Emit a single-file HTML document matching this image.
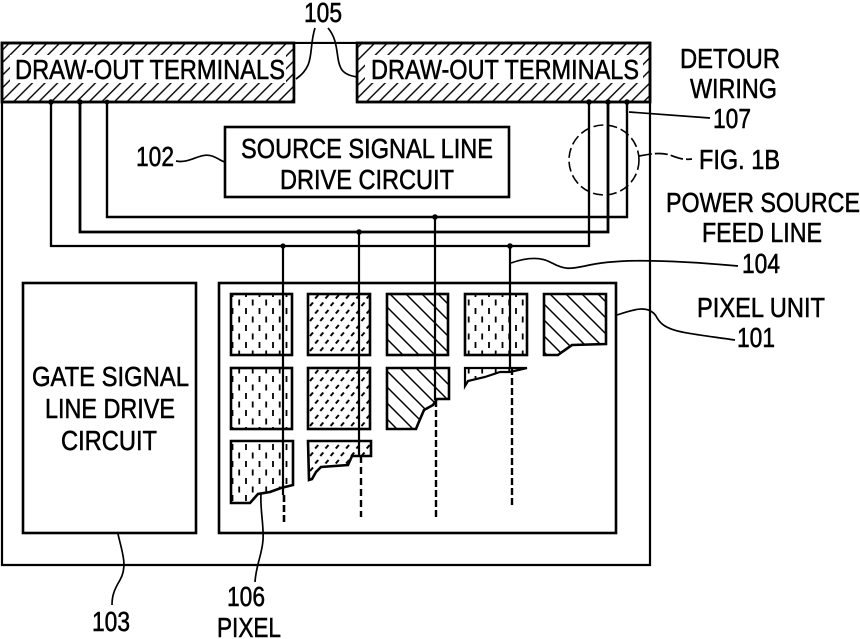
<!DOCTYPE html>
<html>
<head>
<meta charset="utf-8">
<style>
html,body{margin:0;padding:0;background:#fff;width:860px;height:639px;overflow:hidden}
svg{display:block}
text{font-family:"Liberation Sans",sans-serif;font-size:28px;fill:#000;stroke:#000;stroke-width:.55px}
</style>
</head>
<body>
<svg width="860" height="639" viewBox="0 0 860 639" xmlns="http://www.w3.org/2000/svg">
<defs>
<pattern id="h" patternUnits="userSpaceOnUse" width="12.6" height="12.6" patternTransform="translate(2 0)">
<path d="M-3 15.6L15.6 -3M-3 3L3 -3M9.6 15.6L15.6 9.6" stroke="#000" stroke-width="1.4"/>
</pattern>
<pattern id="d" patternUnits="userSpaceOnUse" width="13.5" height="17">
<rect width="13.5" height="17" fill="#fff"/>
<path d="M3 2v6M9.7 10.5v6" stroke="#000" stroke-width="1.8"/>
</pattern>
<pattern id="s" patternUnits="userSpaceOnUse" width="10.3" height="15">
<rect width="10.3" height="15" fill="#fff"/>
<path d="M1 6L4 2.5M6.2 13.5L9.2 10" stroke="#000" stroke-width="2"/>
</pattern>
<pattern id="w" patternUnits="userSpaceOnUse" width="16" height="16">
<rect width="16" height="16" fill="#fff"/>
<path d="M-2 -2L18 18M-2 14L2 18M14 -2L18 2" stroke="#000" stroke-width="1.5"/>
</pattern>
</defs>

<g fill="none" stroke="#000">
<!-- outer frame -->
<path d="M2 43H650V565H2Z" stroke-width="2.2"/>
<!-- terminals -->
<rect x="2" y="43" width="292" height="59" fill="url(#h)" stroke-width="2.6"/>
<rect x="357" y="43" width="293" height="59" fill="url(#h)" stroke-width="2.6"/>
<rect x="10" y="55" width="276" height="28" fill="#fff" stroke="none"/>
<rect x="365" y="55" width="278" height="28" fill="#fff" stroke="none"/>
<rect x="295" y="44" width="61" height="60" fill="#fff" stroke="none"/>
<path d="M295 43H357" stroke-width="1.5"/>
<rect x="2" y="43" width="292" height="59" stroke-width="2.6"/>
<rect x="357" y="43" width="293" height="59" stroke-width="2.6"/>

<!-- source box -->
<rect x="225" y="127" width="284" height="70" fill="#fff" stroke-width="2.6"/>

<!-- feed wiring -->
<path d="M51 102V246H589V102" stroke-width="2.3"/>
<path d="M80 102V232H608V102" stroke-width="2.8"/>
<path d="M107 102V217H627V102" stroke-width="2.4"/>

<!-- gate + pixel unit -->
<rect x="23" y="283" width="173" height="250" stroke-width="2.6"/>
<rect x="219" y="283" width="397" height="250" stroke-width="2.6"/>

<!-- pixels -->
<rect x="231" y="294" width="61" height="61" fill="url(#d)" stroke-width="2.6"/>
<rect x="231" y="368" width="61" height="61" fill="url(#d)" stroke-width="2.6"/>
<path d="M231 441H293V485L281 488L270 492L258 494L250 503H231Z" fill="url(#d)" stroke-width="2.6"/>
<rect x="308" y="294" width="62" height="61" fill="url(#s)" stroke-width="2.6"/>
<rect x="308" y="368" width="62" height="61" fill="url(#s)" stroke-width="2.6"/>
<path d="M308 441H371V456H352L348 465L321 467L316 472L312 479L309 480Z" fill="url(#s)" stroke-width="2.6"/>
<rect x="387" y="294" width="61" height="61" fill="url(#w)" stroke-width="2.6"/>
<path d="M387 368H449V399H437L433 405L424 410L418 424L416 429H387Z" fill="url(#w)" stroke-width="2.6"/>
<rect x="465" y="294" width="62" height="61" fill="url(#d)" stroke-width="2.6"/>
<path d="M465 368H527L510 372L500 372L485 377L468 381L465 386Z" fill="url(#d)" stroke-width="2.2"/>
<path d="M544 294H606V344L572 345L562 352L558 355H544Z" fill="url(#w)" stroke-width="2.6"/>

<!-- vertical data lines -->
<path d="M283 246V495" stroke-width="2.2"/>
<path d="M284 495V525" stroke-width="2.6" stroke-dasharray="7 3"/>
<path d="M359 232V456" stroke-width="2.2"/>
<path d="M361 456V517" stroke-width="2.4" stroke-dasharray="7 4"/>
<path d="M435 217V400" stroke-width="2.2"/>
<path d="M436 400V517" stroke-width="2.4" stroke-dasharray="7 3"/>
<path d="M510 246V368" stroke-width="2.2"/>
<path d="M512 368V505" stroke-width="2.4" stroke-dasharray="7 3"/>

<!-- FIG 1B circle -->
<circle cx="604" cy="160" r="35" stroke-width="1.6" stroke-dasharray="10 4"/>

<!-- leaders -->
<g stroke-width="1.7">
<path d="M315 28C308 50 316 65 296 79"/>
<path d="M328 28C340 42 335 60 342 70C346 75 352 76 357 77"/>
<path d="M176 161C190 164 200 152 212 156C218 158 221 161 225 162"/>
<path d="M629 112L710 118"/>
<path d="M639 156C650 154 660 152 670 155C678 158 682 160 692 159" stroke-dasharray="13 3"/>
<path d="M511 263C525 258 540 256 552 263C565 270 570 269 585 266C610 260 650 258 738 266"/>
<path d="M617 315C632 310 648 304 656 316C664 332 680 332 735 340"/>
<path d="M118 534C122 552 128 566 120 580C114 590 112 596 112 605"/>
<path d="M261 494C260 510 264 525 263 540C262 555 256 565 255 582"/>
</g>
</g>

<!-- junction dots -->
<g fill="#000">
<circle cx="51" cy="102" r="2.8"/><circle cx="80" cy="102" r="2.8"/><circle cx="107" cy="102" r="2.4"/>
<circle cx="589" cy="102" r="2.8"/><circle cx="608" cy="102" r="2.8"/><circle cx="627" cy="102" r="2.8"/>
<circle cx="283" cy="246" r="2.6"/><circle cx="359" cy="232" r="2.8"/><circle cx="435" cy="217" r="2.8"/><circle cx="510" cy="246" r="2.8"/>
</g>

<!-- labels -->
<g>
<text x="304" y="22" textLength="38" lengthAdjust="spacingAndGlyphs">105</text>
<text x="15" y="79" textLength="270" lengthAdjust="spacingAndGlyphs">DRAW-OUT TERMINALS</text>
<text x="371" y="79" textLength="268" lengthAdjust="spacingAndGlyphs">DRAW-OUT TERMINALS</text>
<text x="680" y="68" textLength="100" lengthAdjust="spacingAndGlyphs">DETOUR</text>
<text x="690" y="98" textLength="87" lengthAdjust="spacingAndGlyphs">WIRING</text>
<text x="713" y="128" textLength="38" lengthAdjust="spacingAndGlyphs">107</text>
<text x="136" y="166" textLength="38" lengthAdjust="spacingAndGlyphs">102</text>
<text x="241" y="158" textLength="252" lengthAdjust="spacingAndGlyphs">SOURCE SIGNAL LINE</text>
<text x="280" y="189" textLength="174" lengthAdjust="spacingAndGlyphs">DRIVE CIRCUIT</text>
<text x="699" y="169" textLength="81" lengthAdjust="spacingAndGlyphs">FIG. 1B</text>
<text x="666" y="212" textLength="194" lengthAdjust="spacingAndGlyphs">POWER SOURCE</text>
<text x="702" y="242" textLength="120" lengthAdjust="spacingAndGlyphs">FEED LINE</text>
<text x="742" y="273" textLength="38" lengthAdjust="spacingAndGlyphs">104</text>
<text x="697" y="317" textLength="128" lengthAdjust="spacingAndGlyphs">PIXEL UNIT</text>
<text x="737" y="347" textLength="38" lengthAdjust="spacingAndGlyphs">101</text>
<text x="32" y="386" textLength="157" lengthAdjust="spacingAndGlyphs">GATE SIGNAL</text>
<text x="45" y="418" textLength="130" lengthAdjust="spacingAndGlyphs">LINE DRIVE</text>
<text x="61" y="450" textLength="96" lengthAdjust="spacingAndGlyphs">CIRCUIT</text>
<text x="92" y="631" textLength="38" lengthAdjust="spacingAndGlyphs">103</text>
<text x="227" y="606" textLength="38" lengthAdjust="spacingAndGlyphs">106</text>
<text x="217" y="637" textLength="64" lengthAdjust="spacingAndGlyphs">PIXEL</text>
</g>
</svg>
</body>
</html>
